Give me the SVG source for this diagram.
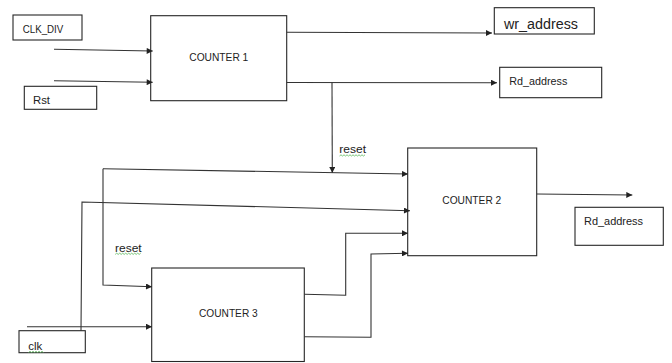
<svg xmlns="http://www.w3.org/2000/svg" width="672" height="363" viewBox="0 0 672 363">
<style>
.box{fill:#fff;stroke:#262626;stroke-width:1.1}
.lbl{fill:#262626;stroke:none;stroke-width:1;font-size:10px;}
.ln{fill:none;stroke:#333;stroke-width:1.1}
.sq{fill:none;stroke:#5bb85b;stroke-width:0.8}
.t{font-family:"Liberation Sans",Arial,sans-serif;fill:#222}
</style>
<defs>
<marker id="ah" viewBox="0 0 10 10" refX="10" refY="5" markerWidth="7" markerHeight="6" markerUnits="userSpaceOnUse" orient="auto">
<path d="M0,0 L10,5 L0,10 Z" fill="#222"/>
</marker>
</defs>
<rect width="672" height="363" fill="#fff"/>
<g id="clk_div">
<rect class="box" x="13" y="15" width="69" height="25"/>
<text class="t" x="22.7" y="33" font-size="10" textLength="40.6" lengthAdjust="spacingAndGlyphs">CLK_DIV</text>
</g>
<g id="rst">
<rect class="box" x="24.3" y="86.3" width="72.4" height="23"/>
<text class="t" x="33" y="104" font-size="10.5" textLength="17" lengthAdjust="spacingAndGlyphs">Rst</text>
</g>
<g id="counter1">
<rect class="box" x="150.7" y="15.7" width="136" height="85"/>
<text class="t" x="189.3" y="60.7" font-size="10" textLength="59" lengthAdjust="spacingAndGlyphs">COUNTER 1</text>
</g>
<g id="wr_address">
<rect class="box" x="494.3" y="7.7" width="100" height="26.3"/>
<text class="t" x="504" y="29" font-size="14" textLength="74" lengthAdjust="spacingAndGlyphs">wr_address</text>
</g>
<g id="rd_address1">
<rect class="box" x="499.7" y="67.3" width="102" height="30.4"/>
<text class="t" x="509.3" y="85" font-size="10.8" textLength="58" lengthAdjust="spacingAndGlyphs">Rd_address</text>
</g>
<g id="counter2">
<rect class="box" x="407.7" y="148" width="129" height="107.7"/>
<text class="t" x="442.3" y="204" font-size="10" textLength="59" lengthAdjust="spacingAndGlyphs">COUNTER 2</text>
</g>
<g id="rd_address2">
<rect class="box" x="575" y="207.3" width="88.3" height="38"/>
<text class="t" x="584" y="225" font-size="10.8" textLength="59" lengthAdjust="spacingAndGlyphs">Rd_address</text>
</g>
<g id="counter3">
<rect class="box" x="151.7" y="268" width="152.6" height="93.5"/>
<text class="t" x="199" y="316.7" font-size="10" textLength="58.7" lengthAdjust="spacingAndGlyphs">COUNTER 3</text>
</g>
<g id="clk">
<rect class="box" x="19" y="330.7" width="66.3" height="22"/>
<text class="t" x="28.3" y="349.5" font-size="11" textLength="14" lengthAdjust="spacingAndGlyphs">clk</text>
<path class="sq" d="M28.5,352.5 l1.5,-1.2 l1.5,1.2 l1.5,-1.2 l1.5,1.2 l1.5,-1.2 l1.5,1.2 l1.5,-1.2 l1.5,1.2 l1.5,-1.2 l1.5,1.2"/>
</g>
<g id="connectors">
<path class="ln" d="M54,49.3 L152.7,51" marker-end="url(#ah)"/>
<path class="ln" d="M54,80.7 L152.7,82.3" marker-end="url(#ah)"/>
<path class="ln" d="M286.7,32.3 L492,33" marker-end="url(#ah)"/>
<path class="ln" d="M286.7,82.5 L497,82.7" marker-end="url(#ah)"/>
<path class="ln" d="M332,82.5 L332.3,173" marker-end="url(#ah)"/>
<path class="ln" d="M103,168.7 L408,174" marker-end="url(#ah)"/>
<path class="ln" d="M103,168.7 L103,285 L152,286.7" marker-end="url(#ah)"/>
<path class="ln" d="M27,326.7 L152,326.7" marker-end="url(#ah)"/>
<path class="ln" d="M81,330.7 L82,202 L410,210.7" marker-end="url(#ah)"/>
<path class="ln" d="M304.3,294.3 L345.7,295.3 L345.7,233.3 L408,233.3" marker-end="url(#ah)"/>
<path class="ln" d="M304.3,336.7 L371,337.3 L371,254 L408,253.3" marker-end="url(#ah)"/>
<path class="ln" d="M536.7,194 L632.3,195" marker-end="url(#ah)"/>
<text class="t" x="339.3" y="153.3" font-size="10.5" textLength="26.7" lengthAdjust="spacingAndGlyphs">reset</text>
<path class="sq" d="M339.5,156 l1.5,-1.2 l1.5,1.2 l1.5,-1.2 l1.5,1.2 l1.5,-1.2 l1.5,1.2 l1.5,-1.2 l1.5,1.2 l1.5,-1.2 l1.5,1.2 l1.5,-1.2 l1.5,1.2 l1.5,-1.2 l1.5,1.2 l1.5,-1.2 l1.5,1.2 l1.5,-1.2"/>
<text class="t" x="115" y="251.7" font-size="10.5" textLength="26.7" lengthAdjust="spacingAndGlyphs">reset</text>
<path class="sq" d="M115.2,254.4 l1.5,-1.2 l1.5,1.2 l1.5,-1.2 l1.5,1.2 l1.5,-1.2 l1.5,1.2 l1.5,-1.2 l1.5,1.2 l1.5,-1.2 l1.5,1.2 l1.5,-1.2 l1.5,1.2 l1.5,-1.2 l1.5,1.2 l1.5,-1.2 l1.5,1.2 l1.5,-1.2"/>
</g>
</svg>
